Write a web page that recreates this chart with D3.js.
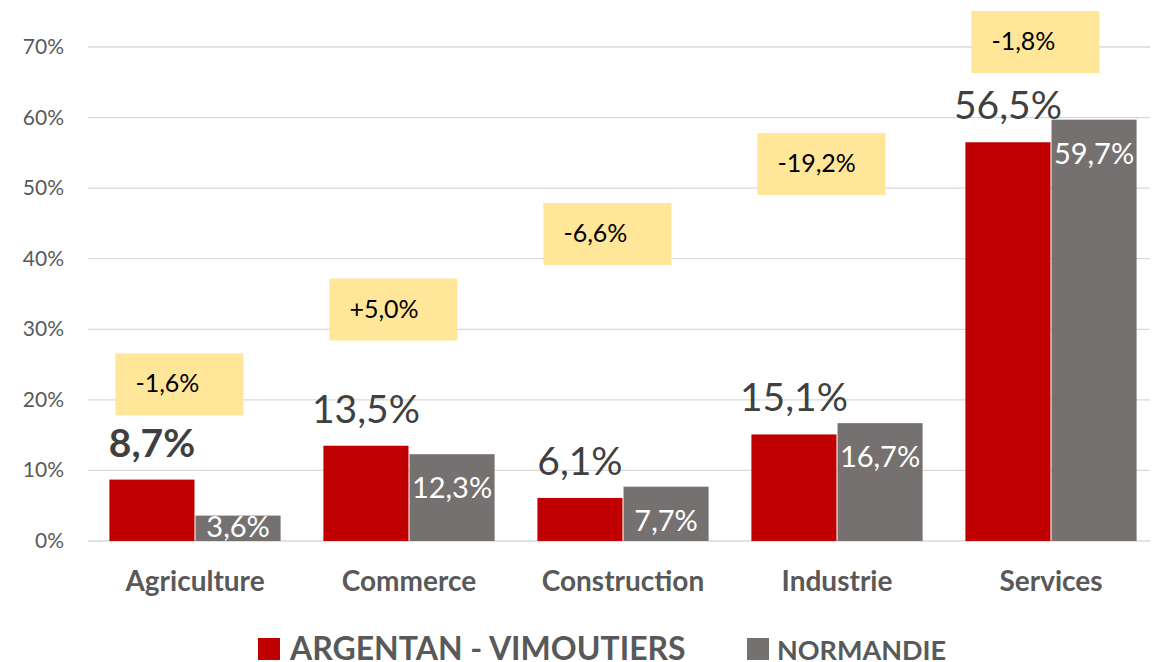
<!DOCTYPE html>
<html><head><meta charset="utf-8">
<script src="https://cdn.jsdelivr.net/npm/d3@7"></script>
<style>body{margin:0;background:#fff}svg{display:block}</style>
</head><body>
<svg id="c" width="1153" height="662"></svg>
<script>
const categories = ["Agriculture","Commerce","Construction","Industrie","Services"];
const seriesNames = ["ARGENTAN - VIMOUTIERS","NORMANDIE"];
const argentan = [8.7, 13.5, 6.1, 15.1, 56.5];
const normandie = [3.6, 12.3, 7.7, 16.7, 59.7];
const diffLabels = ["-1,6%","+5,0%","-6,6%","-19,2%","-1,8%"];
const diffBoxY = [22.2, 32.8, 43.5, 53.4, 70.7];
const yTicks = [0,10,20,30,40,50,60,70];
const colors = ["#C00000","#767171"];
const font = "Lato, 'Open Sans', sans-serif";
const fmt = v => d3.format(".1f")(v).replace(".", ",") + "%";

const svg = d3.select("#c");
const y = d3.scaleLinear().domain([0,70]).range([541,47]);
const x0 = d3.scaleBand().domain(categories).range([88,1158]).paddingInner(0.2).paddingOuter(0.1);
const x1 = d3.scaleBand().domain(seriesNames).range([0,x0.bandwidth()]).paddingInner(0.012);

svg.append("g").selectAll("line").data(yTicks).join("line")
  .attr("x1",88).attr("x2",1150).attr("y1",d=>y(d)).attr("y2",d=>y(d))
  .attr("stroke","#d9d9d9").attr("stroke-width",1.3);
svg.append("g").selectAll("text").data(yTicks).join("text")
  .attr("x",64).attr("y",d=>y(d)+7).attr("text-anchor","end")
  .attr("font-family",font).attr("font-size",21).attr("fill","#595959")
  .text(d=>d+"%");

const data = categories.map((c,i)=>({c, vals:[argentan[i], normandie[i]], diff:diffLabels[i], by:diffBoxY[i]}));

const g = svg.append("g").selectAll("g").data(data).join("g")
  .attr("transform",d=>`translate(${x0(d.c)},0)`);

g.selectAll("rect.bar").data(d=>d.vals.map((v,j)=>({v,s:seriesNames[j],j}))).join("rect")
  .attr("class","bar")
  .attr("x",d=>x1(d.s)).attr("width",x1.bandwidth())
  .attr("y",d=>y(d.v)).attr("height",d=>y(0)-y(d.v))
  .attr("fill",d=>colors[d.j]);

g.append("text")
  .attr("x",x1(seriesNames[0])+x1.bandwidth()/2)
  .attr("y",d=>y(d.vals[0])-23)
  .attr("text-anchor","middle").attr("font-family",font).attr("font-size",39)
  .attr("font-weight",(d,i)=>i===0?"bold":"normal").attr("fill","#404040")
  .text(d=>fmt(d.vals[0]));

g.append("text")
  .attr("x",x1(seriesNames[1])+x1.bandwidth()/2)
  .attr("y",d=>Math.min(y(d.vals[1])+44, y(0)-4))
  .attr("text-anchor","middle").attr("font-family",font).attr("font-size",29)
  .attr("fill","#ffffff")
  .text(d=>fmt(d.vals[1]));

g.append("rect")
  .attr("x",6).attr("width",128)
  .attr("y",d=>y(d.by)-31).attr("height",62)
  .attr("fill","#FFE699");
g.append("text")
  .attr("x",26).attr("y",d=>y(d.by)+8)
  .attr("font-family",font).attr("font-size",25).attr("fill","#000")
  .text(d=>d.diff);

svg.append("g").selectAll("text").data(categories).join("text")
  .attr("x",d=>x0(d)+x0.bandwidth()/2).attr("y",591)
  .attr("text-anchor","middle").attr("font-family",font).attr("font-size",28)
  .attr("font-weight","bold").attr("fill","#595959").text(d=>d);

const leg = [{x:258,size:32,tx:290},{x:747,size:27,tx:777}];
leg.forEach((l,i)=>{
  svg.append("rect").attr("x",l.x).attr("y",638).attr("width",22).attr("height",22).attr("fill",colors[i]);
  svg.append("text").attr("x",l.tx).attr("y",660).attr("font-family",font).attr("font-size",l.size)
    .attr("font-weight","bold").attr("fill","#595959").text(seriesNames[i]);
});
</script>
</body></html>
